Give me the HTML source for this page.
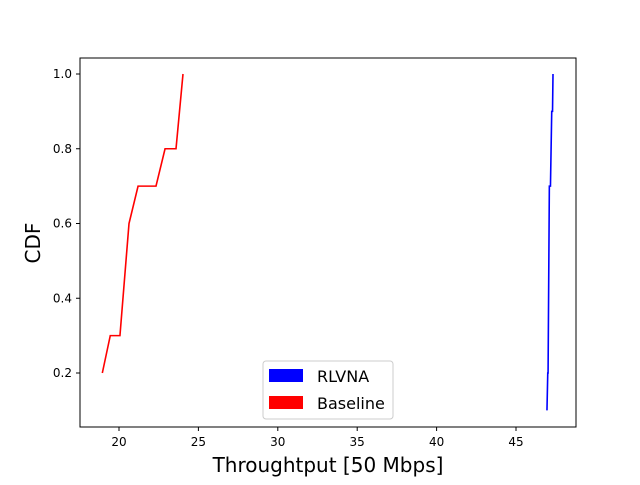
<!DOCTYPE html>
<html><head><meta charset="utf-8"><style>
body{margin:0;background:#fff;font-family:"Liberation Sans","DejaVu Sans",sans-serif}
</style></head><body>
<svg id="chart" width="640" height="480" xmlns="http://www.w3.org/2000/svg" font-family="DejaVu Sans, Liberation Sans, sans-serif">
<rect width="640" height="480" fill="#fff"/>
<g id="plot"></g>
<rect x="80" y="58" width="496" height="369" fill="none" stroke="#000" stroke-width="1"/>
<g id="ticks"></g>
<text x="328" y="472" font-size="20" text-anchor="middle">Throughtput [50 Mbps]</text>
<text transform="translate(40,243) rotate(-90)" font-size="20" text-anchor="middle">CDF</text>
<g>
<rect x="263" y="361" width="130" height="58" fill="#fff" stroke="#ccc" rx="3"/>
<rect x="269" y="369" width="34" height="13" fill="#0000ff"/>
<text x="317" y="382" font-size="16">RLVNA</text>
<rect x="269" y="396" width="34" height="13" fill="#ff0000"/>
<text x="317" y="409" font-size="16">Baseline</text>
</g>
</svg>
<script>
const xTicks=[20,25,30,35,40,45];
const yTicks=[0.2,0.4,0.6,0.8,1.0];
const baselineX=[18.95,19.45,20.06,20.63,21.2,22.33,22.9,23.59,24.03];
const baselineY=[0.2,0.3,0.3,0.6,0.7,0.7,0.8,0.8,1.0];
const rlvnaX=[46.95,47.0,47.02,47.1,47.17,47.25,47.3,47.33];
const rlvnaY=[0.1,0.2,0.2,0.7,0.7,0.9,0.9,1.0];
const sx=v=>119+(v-20)*15.88;
const sy=v=>373-(v-0.2)*373.75;
const NS="http://www.w3.org/2000/svg";
const plot=document.getElementById('plot');
function line(xs,ys,color,name){
  const p=document.createElementNS(NS,'polyline');
  p.setAttribute('points',xs.map((x,i)=>sx(x)+','+sy(ys[i])).join(' '));
  p.setAttribute('fill','none');p.setAttribute('stroke',color);p.setAttribute('stroke-width','1.6');
  
  
  plot.appendChild(p);
}
line(baselineX,baselineY,'#ff0000','baseline-line');
line(rlvnaX,rlvnaY,'#0000ff','rlvna-line');
const tk=document.getElementById('ticks');
xTicks.forEach(v=>{
  const l=document.createElementNS(NS,'line');
  l.setAttribute('x1',sx(v));l.setAttribute('x2',sx(v));l.setAttribute('y1',427);l.setAttribute('y2',431);l.setAttribute('stroke','#000');
  
  
  tk.appendChild(l);
  const t=document.createElementNS(NS,'text');
  t.setAttribute('x',sx(v));t.setAttribute('y',446);t.setAttribute('font-size','12');t.setAttribute('text-anchor','middle');
  t.textContent=v;
  
  
  tk.appendChild(t);
});
yTicks.forEach(v=>{
  const l=document.createElementNS(NS,'line');
  l.setAttribute('x1',76);l.setAttribute('x2',80);l.setAttribute('y1',sy(v));l.setAttribute('y2',sy(v));l.setAttribute('stroke','#000');
  
  
  tk.appendChild(l);
  const t=document.createElementNS(NS,'text');
  t.setAttribute('x',72);t.setAttribute('y',sy(v)+4);t.setAttribute('font-size','12');t.setAttribute('text-anchor','end');
  t.textContent=v.toFixed(1);
  
  
  tk.appendChild(t);
});
</script>
</body></html>
